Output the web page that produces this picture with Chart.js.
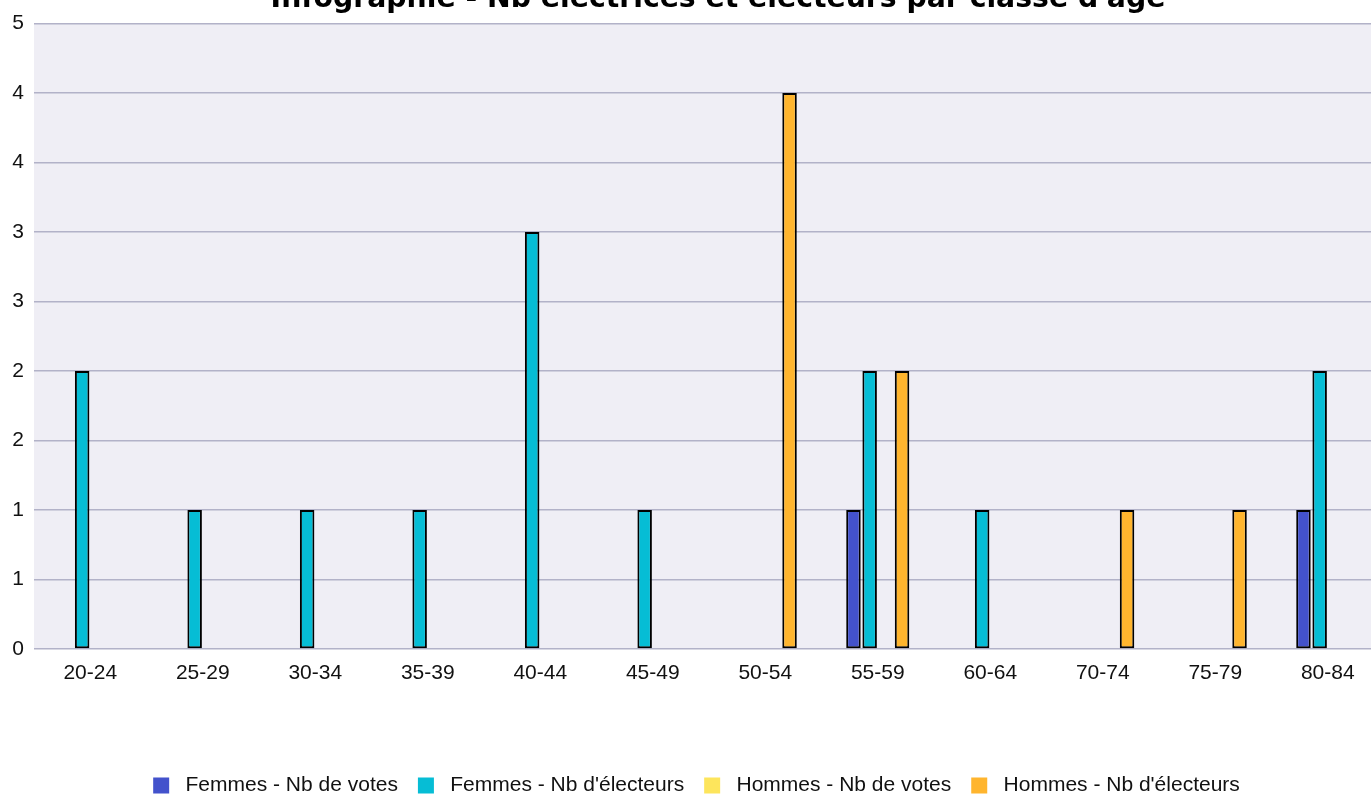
<!DOCTYPE html>
<html><head><meta charset="utf-8">
<script src="https://cdn.jsdelivr.net/npm/chart.js@4.4.1/dist/chart.umd.min.js"></script>
<style>
html,body{margin:0;padding:0;overflow:hidden;background:#fff;width:1371px;height:795px}
#wrap{position:absolute;left:0;top:-30px;width:1384px;height:836px}
</style></head>
<body><div id="wrap"><canvas id="c"></canvas></div>
<script>
const categories = ['20-24','25-29','30-34','35-39','40-44','45-49','50-54','55-59','60-64','70-74','75-79','80-84'];
const femmesVotes     = [0,0,0,0,0,0,0,1,0,0,0,1];
const femmesElecteurs = [2,1,1,1,3,1,0,2,1,0,0,2];
const hommesVotes     = [0,0,0,0,0,0,0,0,0,0,0,0];
const hommesElecteurs = [0,0,0,0,0,0,4,2,0,1,1,0];
const yTickLabels = ['0','1','1','2','2','3','3','4','4','5'];
const seriesNames = ['Femmes - Nb de votes',"Femmes - Nb d'électeurs",'Hommes - Nb de votes',"Hommes - Nb d'électeurs"];
const seriesColors = ['#4352cc','#06bdd5','#fde55c','#ffb52e'];
const titleText = "Infographie - Nb électrices et électeurs par classe d'âge";

Chart.defaults.font.family = "'Liberation Sans', Arial, sans-serif";
Chart.defaults.color = '#111';

const plotBg = {
  id: 'plotBg',
  beforeDraw(chart) {
    const {ctx, chartArea: a} = chart;
    ctx.save();
    ctx.fillStyle = '#efeef5';
    ctx.fillRect(a.left, a.top, a.right - a.left, a.bottom - a.top);
    ctx.restore();
  }
};
const shiftBoxes = {
  id: 'shiftBoxes',
  afterLayout(chart) {
    const t = chart.titleBlock;
    if (t) { t.left += 26; t.right += 26; }
    const l = chart.legend;
    if (l) { l.left += 4.5; l.right += 4.5; }
  }
};

const allSeries = [femmesVotes, femmesElecteurs, hommesVotes, hommesElecteurs];
const datasets = allSeries.map((d, i) => ({
  label: seriesNames[i],
  data: d,
  backgroundColor: seriesColors[i],
  borderColor: '#000',
  borderWidth: 2,
  borderSkipped: false,
  categoryPercentage: 0.576,
  barPercentage: 0.895,
  yAxisID: 'y'
}));

new Chart(document.getElementById('c'), {
  type: 'bar',
  data: { labels: categories, datasets },
  options: {
    responsive: true,
    maintainAspectRatio: false,
    animation: false,
    layout: { padding: 0 },
    plugins: {
      title: {
        display: true,
        text: titleText,
        color: '#000',
        font: { family: "'DejaVu Sans', Verdana, sans-serif", size: 28.3, weight: 'bold' },
        padding: { top: 13, bottom: 6.4 }
      },
      legend: {
        position: 'bottom',
        labels: {
          boxWidth: 16,
          boxHeight: 16,
          padding: 20,
          color: '#111',
          font: { size: 21 },
          generateLabels(chart) {
            const items = Chart.defaults.plugins.legend.labels.generateLabels(chart);
            items.forEach(it => { it.text = ' ' + it.text; it.lineWidth = 0; it.strokeStyle = 'rgba(0,0,0,0)'; });
            return items;
          }
        }
      },
      tooltip: { enabled: false }
    },
    scales: {
      x: {
        grid: { display: false },
        border: { display: false },
        ticks: { padding: 4, font: { size: 21 }, color: '#111', maxRotation: 0, autoSkip: false },
        afterFit(s) { s.height = 106; }
      },
      y: {
        min: 0,
        max: 4.5,
        grid: { color: '#b2b2c8', lineWidth: 1.5, drawTicks: false },
        border: { display: false },
        ticks: {
          stepSize: 0.5,
          padding: 10,
          font: { size: 21 },
          color: '#111',
          callback: (v, i) => yTickLabels[i]
        },
        afterFit(s) { s.width = 34; }
      }
    }
  },
  plugins: [plotBg, shiftBoxes]
});
</script>
</body></html>
